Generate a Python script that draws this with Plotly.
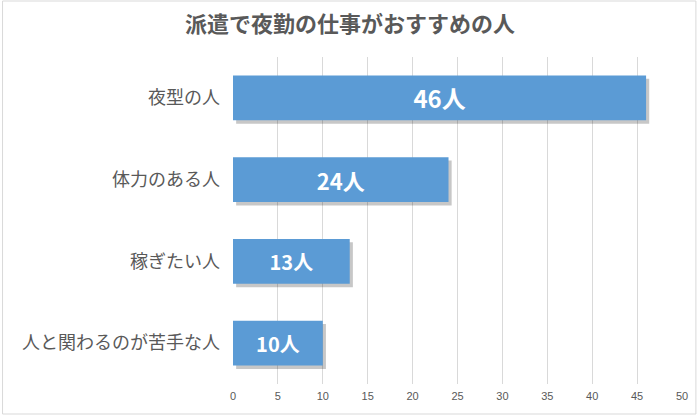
import plotly.graph_objects as go

categories = ["夜型の人", "体力のある人", "稼ぎたい人", "人と関わるのが苦手な人"]
values = [46, 24, 13, 10]
labels = ["46人", "24人", "13人", "10人"]
label_sizes = [24, 22, 20, 20]
x_ticks = [0, 5, 10, 15, 20, 25, 30, 35, 40, 45, 50]

W, H = 700, 415
ml, mr, mt, mb = 233, 15, 57, 31
pw, ph = W - ml - mr, H - mt - mb

fig = go.Figure()
# soft shadow behind bars
fig.add_trace(go.Bar(
    y=categories, x=values, orientation="h",
    base=0.35, width=0.55, offset=-0.275 + 0.04,
    marker=dict(color="rgba(0,0,0,0.22)", line=dict(width=0)),
    hoverinfo="skip", showlegend=False,
))
fig.add_trace(go.Bar(
    y=categories, x=values, orientation="h",
    width=0.55, offset=-0.275,
    marker=dict(color="#5B9BD5", line=dict(width=0)),
    text=["<b>" + t + "</b>" for t in labels],
    textposition="inside", insidetextanchor="middle",
    textfont=dict(color="white", size=label_sizes,
                  family="Noto Sans CJK JP"),
    textangle=0,
    showlegend=False,
))

fig.update_layout(
    width=W, height=H,
    margin=dict(l=ml, r=mr, t=mt, b=mb),
    paper_bgcolor="white", plot_bgcolor="white",
    barmode="overlay",
    font=dict(family="Noto Sans CJK JP", color="#595959"),
    title=dict(text="<b>派遣で夜勤の仕事がおすすめの人</b>", x=0.5, xref="container",
               xanchor="center", y=1 - 24 / H, yanchor="middle",
               font=dict(size=22, color="#595959",
                         family="Noto Sans CJK JP")),
    xaxis=dict(range=[0, 50], tickvals=x_ticks, showgrid=True,
               gridcolor="#D9D9D9", gridwidth=1, zeroline=False,
               showline=False, ticks="", ticklabelstandoff=4,
               tickfont=dict(size=11, color="#595959",
                             family="Liberation Sans")),
    yaxis=dict(categoryorder="array", categoryarray=categories,
               autorange="reversed", showgrid=False, showline=False,
               ticks="", ticklabelstandoff=12,
               tickfont=dict(size=18, color="#595959",
                             family="Noto Sans CJK JP")),
)
# figure border
fig.add_shape(type="rect", xref="paper", yref="paper",
              x0=(1 - ml) / pw, x1=(W - 1 - ml) / pw,
              y0=-(mb - 1) / ph, y1=1 + (mt - 1) / ph,
              line=dict(color="#D9D9D9", width=1), layer="below")

fig.write_html("out.html")
